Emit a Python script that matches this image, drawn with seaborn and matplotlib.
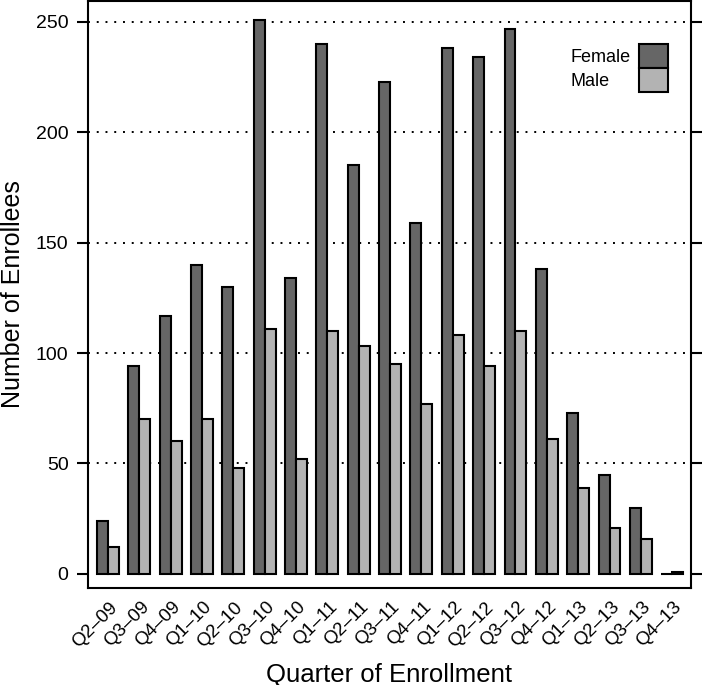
import matplotlib
matplotlib.use("Agg")
import matplotlib.pyplot as plt
import matplotlib.transforms as mtransforms
import seaborn as sns
import pandas as pd
from matplotlib.patches import Patch

quarters = ["Q2\u201309", "Q3\u201309", "Q4\u201309", "Q1\u201310", "Q2\u201310", "Q3\u201310", "Q4\u201310",
            "Q1\u201311", "Q2\u201311", "Q3\u201311", "Q4\u201311", "Q1\u201312", "Q2\u201312", "Q3\u201312",
            "Q4\u201312", "Q1\u201313", "Q2\u201313", "Q3\u201313", "Q4\u201313"]
female = [24, 94, 117, 140, 130, 251, 134, 240, 185, 223, 159, 238, 234, 247, 138, 73, 45, 30, 0]
male = [12, 70, 60, 70, 48, 111, 52, 110, 103, 95, 77, 108, 94, 110, 61, 39, 21, 16, 1]
y_ticks = [0, 50, 100, 150, 200, 250]

df = pd.DataFrame({
    "quarter": quarters * 2,
    "count": female + male,
    "sex": ["Female"] * len(quarters) + ["Male"] * len(quarters),
})

sns.set_style("white")
plt.rcParams["font.family"] = ["Liberation Sans", "DejaVu Sans"]
for k in ["text.color", "axes.labelcolor", "xtick.color", "ytick.color"]:
    plt.rcParams[k] = "black"

colors = {"Female": "#666666", "Male": "#b3b3b3"}

fig = plt.figure(figsize=(7.05, 6.85), dpi=100)
ax = fig.add_axes([88 / 705, 1 - 588 / 685, 603 / 705, 587 / 685])

for v in y_ticks[1:]:
    ax.axhline(v, color="black", linestyle=(0, (1, 3.5)), linewidth=1.4, zorder=0)

sns.barplot(data=df, x="quarter", y="count", hue="sex", order=quarters,
            hue_order=["Female", "Male"], palette=colors, edgecolor="black",
            linewidth=1.5, width=0.7, gap=0, saturation=1, legend=False, ax=ax, zorder=2)

ax.set_xlim(-0.64, len(quarters) - 0.4)
ax.set_ylim(-6.4, 259.5)
ax.set_yticks(y_ticks)
ax.set_xticks(range(len(quarters)))
ax.set_xticklabels(quarters, rotation=45, ha="right", va="center", rotation_mode="anchor", fontsize=13.5)
ax.tick_params(axis="y", which="both", left=True, right=True, labelleft=True, labelright=False,
               direction="out", length=8, width=1.5, labelsize=14, pad=6)
ax.tick_params(axis="x", bottom=False, length=0, pad=12)
shift = mtransforms.ScaledTranslation(7 / 100, 0, fig.dpi_scale_trans)
for lbl in ax.get_xticklabels():
    lbl.set_transform(lbl.get_transform() + shift)

for sp in ax.spines.values():
    sp.set_visible(True)
    sp.set_color("black")
    sp.set_linewidth(1.5)

ax.set_xlabel("Quarter of Enrollment", fontsize=18.5)
ax.xaxis.set_label_coords(0.5, -0.127)
ax.xaxis.label.set_va("top")
ax.set_ylabel("Number of Enrollees", fontsize=18)
ax.yaxis.set_label_coords(-0.104, 0.5)

legend_labels = ["Female", "Male"]
handles = [Patch(facecolor=colors[k], edgecolor="black", linewidth=1.5) for k in legend_labels]
leg = ax.legend(handles, legend_labels, loc="upper right", bbox_to_anchor=(0.962, 0.927),
                frameon=False, markerfirst=False, labelspacing=0.0, handleheight=1.67,
                handlelength=1.6, handletextpad=0.5, fontsize=13, borderaxespad=0, borderpad=0)

# left-align legend labels (texts are right-aligned against the keys by default)
renderer = fig.canvas.get_renderer()
widths = [t.get_window_extent(renderer).width for t in leg.get_texts()]
wmax = max(widths)
for t, w in zip(leg.get_texts(), widths):
    t.set_x(-(wmax - w))

fig.savefig("out.png", dpi=100)
